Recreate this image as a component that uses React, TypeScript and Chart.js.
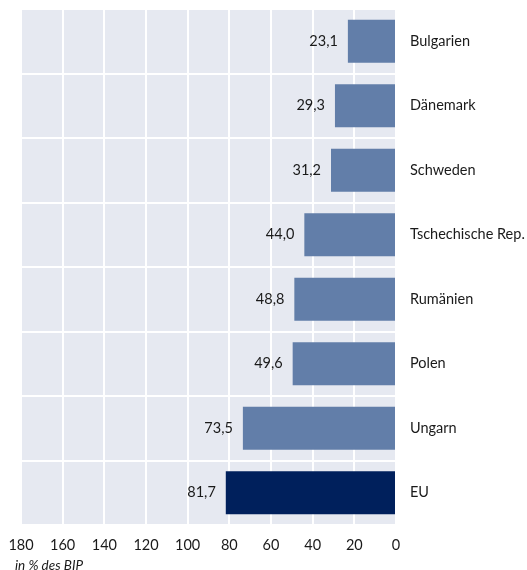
import React, { useEffect, useRef } from "react";
import { Chart, registerables } from "chart.js";

Chart.register(...registerables);

const categories = ["Bulgarien", "Dänemark", "Schweden", "Tschechische Rep.", "Rumänien", "Polen", "Ungarn", "EU"];
const values = [23.1, 29.3, 31.2, 44.0, 48.8, 49.6, 73.5, 81.7];
const barColors = ["#627ea9", "#627ea9", "#627ea9", "#627ea9", "#627ea9", "#627ea9", "#627ea9", "#00205c"];
const axisNote = "in % des BIP";

const FONT = "Lato, 'Open Sans', sans-serif";

const bgPlugin = {
  id: "bgPlugin",
  beforeDraw(chart: any) {
    const { ctx, chartArea } = chart;
    ctx.save();
    ctx.fillStyle = "#e6e9f1";
    ctx.fillRect(chartArea.left, chartArea.top, chartArea.right - chartArea.left, chartArea.bottom - chartArea.top);
    ctx.restore();
  },
};

const labelPlugin = {
  id: "labelPlugin",
  afterDatasetsDraw(chart: any) {
    const { ctx } = chart;
    const meta = chart.getDatasetMeta(0);
    ctx.save();
    ctx.font = `14.5px ${FONT}`;
    ctx.fillStyle = "#1a1a1a";
    ctx.textAlign = "right";
    ctx.textBaseline = "middle";
    meta.data.forEach((bar: any, i: number) => {
      const v = values[i];
      ctx.fillText(v.toFixed(1).replace(".", ","), bar.x - 10, bar.y);
    });
    ctx.font = `italic 13.5px ${FONT}`;
    ctx.textAlign = "left";
    ctx.textBaseline = "middle";
    ctx.fillText(axisNote, chart.chartArea.left - 6, chart.height - 4);
    ctx.restore();
  },
};

export default function App() {
  const ref = useRef<HTMLCanvasElement>(null);
  useEffect(() => {
    if (!ref.current) return;
    const chart = new Chart(ref.current, {
      type: "bar",
      data: {
        labels: categories,
        datasets: [
          {
            data: values,
            backgroundColor: barColors,
            barPercentage: 0.67,
            categoryPercentage: 1,
          },
        ],
      },
      options: {
        indexAxis: "y",
        animation: false,
        responsive: false,
        maintainAspectRatio: false,
        layout: { autoPadding: false, padding: { top: 9, left: 21, right: 0, bottom: 0 } },
        plugins: { legend: { display: false }, tooltip: { enabled: false } },
        scales: {
          x: {
            reverse: true,
            min: 0,
            max: 180,
            ticks: { stepSize: 20, padding: 12, color: "#1a1a1a", font: { family: FONT, size: 14.5 } },
            grid: { color: "#ffffff", lineWidth: 2, drawTicks: false },
            border: { display: false },
            afterFit(scale: any) {
              scale.height = 45;
              scale.paddingLeft = 0;
              scale.paddingRight = 0;
              scale.paddingTop = 0;
              scale.paddingBottom = 0;
            },
          },
          y: {
            position: "right",
            ticks: { padding: 14, color: "#1a1a1a", font: { family: FONT, size: 14.5 } },
            grid: { color: "#ffffff", lineWidth: 2, drawTicks: false },
            border: { display: false },
            afterFit(scale: any) {
              scale.width = 131;
              scale.paddingLeft = 0;
              scale.paddingRight = 0;
              scale.paddingTop = 0;
              scale.paddingBottom = 0;
            },
          },
        },
      },
      plugins: [bgPlugin, labelPlugin],
    });
    return () => chart.destroy();
  }, []);
  return (
    <div style={{ position: "fixed", left: 0, top: 0, width: 527, height: 570, background: "#fff" }}>
      <canvas ref={ref} width={527} height={570} style={{ width: 527, height: 570 }} />
    </div>
  );
}
